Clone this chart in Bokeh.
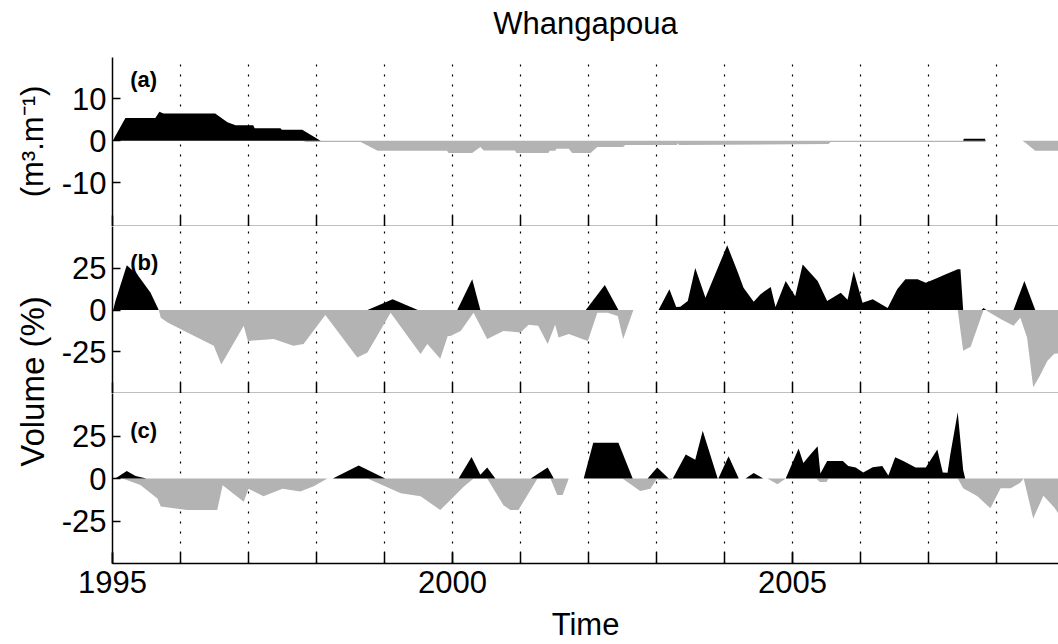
import math
from bokeh.plotting import figure
from bokeh.layouts import row, column
from bokeh.models import Range1d, FixedTicker, Label
from bokeh.core.properties import value
from bokeh.embed import file_html
from bokeh.resources import INLINE

nan = float("nan")

# ---------------- data ----------------
title_text = "Whangapoua"
years = list(range(1995, 2009))
label_years = [1995, 2000, 2005]
a_ticks = [-10, 0, 10]
bc_ticks = [-25, 0, 25]

# panel (a) shoreline change (m3.m-1)
a_acc_t = [1995.01, 1995.03, 1995.19, 1995.63, 1995.69, 1995.75, 1996.51, 1996.69, 1996.81, 1997.07,
           1997.09, 1997.47, 1997.49, 1997.79, 1998.06, nan, 2007.51, 2007.52, 2007.83, 2007.84]
a_acc_v = [0, 0.8, 5.4, 5.4, 6.9, 6.5, 6.5, 4.4, 3.7, 3.7,
           3.0, 3.0, 2.6, 2.6, 0, nan, 0, 0.45, 0.45, 0]
a_ero_t = [1997.79, 1997.85, 1998.65, 1998.90, 1999.92, 1999.94, 2000.29, 2000.41, 2000.46, 2000.92,
           2000.94, 2001.41, 2001.43, 2001.51, 2001.53, 2001.71, 2001.76, 2002.03, 2002.13, 2002.51,
           2002.54, 2003.30, 2003.31, 2003.33, 2005.53, 2005.56, 2007.84, nan, 2008.38, 2008.42,
           2008.57, 2008.91]
a_ero_v = [0, -0.3, -0.3, -2.4, -2.4, -2.9, -2.9, -1.5, -2.3, -2.3,
           -2.9, -2.9, -2.4, -2.4, -1.9, -1.9, -2.9, -2.9, -1.5, -1.5,
           -1.0, -1.0, -0.6, -1.0, -0.8, -0.3, -0.3, nan, 0, -0.4,
           -2.4, -2.4]

# panel (b) volume change (%)
b_acc_t = [1995.01, 1995.04, 1995.21, 1995.37, 1995.56, 1995.68, nan,
           1998.75, 1999.12, 1999.49, nan,
           2000.07, 2000.29, 2000.41, nan,
           2001.96, 2002.24, 2002.44, nan,
           2003.03, 2003.19, 2003.29, 2003.35, 2003.46, 2003.57, 2003.72, 2003.84, 2004.04, 2004.19,
           2004.28, 2004.43, 2004.53, 2004.68, 2004.75, 2004.90, 2005.04, 2005.15, 2005.37, 2005.51,
           2005.71, 2005.81, 2005.90, 2006.03, 2006.18, 2006.40, 2006.54, 2006.66, 2006.84, 2006.96,
           2007.13, 2007.22, 2007.43, 2007.47, 2007.51, nan,
           2007.78, 2007.81, 2007.85, nan,
           2008.25, 2008.41, 2008.57]
b_acc_v = [0, 5.0, 26.8, 21.0, 10.3, 0, nan,
           0, 6.5, 0, nan,
           0, 18.4, 0, nan,
           0, 14.9, 0, nan,
           0, 12.5, 1.8, 2.0, 5.4, 25.2, 7.3, 19.2, 38.7, 23.2,
           13.3, 4.9, 9.5, 13.7, 1.8, 17.3, 8.3, 27.2, 17.3, 5.4,
           10.3, 6.1, 23.2, 4.4, 6.5, 1.2, 12.5, 18.4, 18.4, 16.3,
           19.2, 20.8, 24.4, 24.4, 0, nan,
           0, 1.2, 0, nan,
           0, 17.3, 0]
b_ero_t = [1995.68, 1995.71, 1995.81, 1996.10, 1996.49, 1996.60, 1996.93, 1996.99, 1997.37, 1997.66,
           1997.81, 1998.13, 1998.60, 1998.75, 1999.09, 1999.53, 1999.63, 1999.82, 1999.93, 1999.97,
           2000.12, 2000.31, 2000.51, 2000.75, 2001.00, 2001.12, 2001.26, 2001.40, 2001.51, 2001.56,
           2001.71, 2001.99, 2002.13, 2002.28, 2002.43, 2002.51, 2002.66, nan,
           2007.43, 2007.51, 2007.62, 2007.81, 2007.84, 2007.88, 2008.06, 2008.25, 2008.35, 2008.45,
           2008.54, 2008.63, 2008.75, 2008.85, 2008.91]
b_ero_v = [0, -4.6, -7.5, -13.5, -21.4, -32.7, -9.5, -18.5, -17.3, -21.4,
           -20.4, -3.0, -28.4, -25.4, -1.6, -26.4, -20.4, -29.2, -15.5, -15.5,
           -12.5, -1.6, -17.3, -12.5, -13.5, -8.9, -9.5, -20.4, -8.9, -16.5,
           -14.3, -18.5, -1.6, -1.6, -3.6, -17.3, 0, nan,
           0, -24.4, -22.0, 0, 0, -1.0, -5.4, -9.5, -4.6, -16.5,
           -46.2, -40.0, -30.4, -26.2, -26.0]

# panel (c) volume change (%)
c_acc_t = [1995.04, 1995.21, 1995.34, 1995.50, nan,
           1998.24, 1998.62, 1999.01, nan,
           2000.09, 2000.28, 2000.41, 2000.51, 2000.63, nan,
           2001.15, 2001.40, 2001.49, nan,
           2001.93, 2002.07, 2002.44, 2002.65, nan,
           2002.87, 2003.01, 2003.18, nan,
           2003.24, 2003.43, 2003.57, 2003.68, 2003.90, nan,
           2003.91, 2004.06, 2004.21, nan,
           2004.31, 2004.43, 2004.57, nan,
           2004.90, 2005.09, 2005.16, 2005.26, 2005.37, 2005.41, 2005.51, 2005.74, 2005.82, 2005.93,
           2006.04, 2006.18, 2006.32, 2006.41, 2006.51, 2006.63, 2006.81, 2006.96, 2007.13, 2007.21,
           2007.28, 2007.32, 2007.43, 2007.51, 2007.54]
c_acc_v = [0, 4.4, 1.5, 0, nan,
           0, 7.7, 0, nan,
           0, 12.7, 2.2, 6.5, 0, nan,
           0, 6.5, 0, nan,
           0, 21.0, 21.0, 0, nan,
           0, 6.5, 0, nan,
           0, 14.1, 11.1, 28.1, 0, nan,
           0, 13.1, 0, nan,
           0, 3.2, 0, nan,
           0, 17.7, 9.1, 14.0, 19.0, 3.0, 10.3, 10.3, 7.3, 6.5,
           3.6, 6.6, 7.3, 1.8, 12.5, 10.3, 6.5, 6.5, 17.1, 3.6,
           3.4, 14.0, 38.9, 5.0, 0]
c_ero_t = [1995.15, 1995.41, 1995.66, 1995.71, 1996.10, 1996.54, 1996.62, 1996.93, 1997.00, 1997.22,
           1997.50, 1997.76, 1997.96, 1998.16, nan,
           1998.75, 1999.24, 1999.53, 1999.82, 1999.97, 2000.16, 2000.31, nan,
           2000.51, 2000.75, 2000.85, 2000.97, 2001.25, nan,
           2001.44, 2001.54, 2001.62, 2001.71, nan,
           2002.50, 2002.76, 2002.91, 2003.01, nan,
           2003.01, 2003.03, 2003.22, 2003.24, nan,
           2004.63, 2004.78, 2004.90, nan,
           2005.35, 2005.40, 2005.50, 2005.53, nan,
           2007.43, 2007.51, 2007.72, 2007.91, 2008.06, 2008.21, 2008.35, 2008.40, 2008.54, 2008.69,
           2008.85, 2008.91]
c_ero_v = [0, -3.8, -11.7, -16.5, -18.5, -18.5, -4.0, -13.7, -6.1, -10.5,
           -6.1, -7.6, -4.6, 0, nan,
           0, -8.7, -10.5, -18.5, -12.7, -5.0, 0, nan,
           0, -15.7, -18.5, -18.5, 0, nan,
           0, -9.7, -9.7, 0, nan,
           0, -7.3, -6.0, 0, nan,
           0, -0.8, -0.8, 0, nan,
           0, -3.4, 0, nan,
           0, -2.0, -2.0, 0, nan,
           0, -5.8, -10.5, -17.5, -5.8, -5.8, -2.5, 0, -23.5, -10.1,
           -17.0, -20.6]

panel_letters = ["(a)", "(b)", "(c)"]
ylabel_a = "(m³.m⁻¹)"
ylabel_bc = "Volume (%)"
xlabel = "Time"

# ---------------- styling ----------------
FONT = "Liberation Sans"
FS = "31px"
BLACK = "#000000"
GREY = "#b3b3b3"
X0, X1 = 1995.0, 2008.912
XMID = (X0 + X1) / 2
LEFT_W = 58
MAIN_W = 1000
BORDER_L = 54
H_TITLE, H1, H2, H3, H_X = 57, 169, 167, 216, 35
TOTAL_H = H_TITLE + H1 + H2 + H3 + H_X


def segments(t, v):
    segs, ct, cv = [], [], []
    for ti, vi in zip(t, v):
        if math.isnan(vi) or math.isnan(ti):
            if ct:
                segs.append((ct, cv))
            ct, cv = [], []
        else:
            ct.append(ti)
            cv.append(vi)
    if ct:
        segs.append((ct, cv))
    return segs


def text_figure(w, h, xr):
    """A blank strip for free-standing texts; y counts pixels down from its top edge."""
    f = figure(width=w, height=h, x_range=xr, y_range=Range1d(h, 0),
               toolbar_location=None, output_backend="svg",
               x_axis_location=None, y_axis_location=None,
               min_border=0, min_border_left=0, min_border_right=0,
               min_border_top=0, min_border_bottom=0)
    f.outline_line_color = None
    f.grid.visible = False
    f.background_fill_color = "white"
    f.border_fill_color = "white"
    return f


def make_panel(height, yr, ticks, acc_t, acc_v, ero_t, ero_v, letter, letter_y,
               bottom=0, last=False):
    assert len(acc_t) == len(acc_v) and len(ero_t) == len(ero_v)
    p = figure(width=MAIN_W, height=height, x_range=Range1d(X0, X1), y_range=Range1d(*yr),
               toolbar_location=None, output_backend="svg",
               min_border_left=BORDER_L, min_border_right=0,
               min_border_top=0, min_border_bottom=bottom)
    p.outline_line_color = None
    p.background_fill_color = "white"
    p.border_fill_color = "white"
    # year grid (dotted)
    p.ygrid.visible = False
    p.xgrid.ticker = FixedTicker(ticks=years[1:])
    p.xgrid.grid_line_color = BLACK
    p.xgrid.grid_line_dash = "2 8"
    p.xgrid.grid_line_width = 1.2
    # fills
    for st, sv in segments(ero_t, ero_v):
        p.varea(x=st, y1=[0] * len(st), y2=sv, fill_color=GREY)
    for st, sv in segments(acc_t, acc_v):
        p.varea(x=st, y1=[0] * len(st), y2=sv, fill_color=BLACK)
    # x axis: a tick every year (minor), labels only at 1995/2000/2005 on the last panel
    xa = p.xaxis[0]
    xa.ticker = FixedTicker(ticks=(label_years if last else []), minor_ticks=years)
    xa.major_tick_in = 11
    xa.major_tick_out = 0
    xa.minor_tick_in = 11
    xa.minor_tick_out = 0
    xa.minor_tick_line_color = BLACK
    xa.minor_tick_line_width = 1.5
    xa.major_tick_line_width = 1.5
    xa.axis_line_width = 1.5
    xa.axis_line_color = BLACK
    if last:
        xa.major_label_text_font = FONT
        xa.major_label_text_font_size = FS
        xa.major_label_text_color = BLACK
        xa.major_label_standoff = 7
    else:
        xa.major_label_standoff = 0
    # y axis
    ya = p.yaxis[0]
    ya.ticker = FixedTicker(ticks=ticks)
    ya.major_label_overrides = {t: str(t) for t in ticks}
    ya.major_tick_in = 8
    ya.major_tick_out = 0
    ya.minor_tick_line_color = None
    ya.axis_line_width = 1.5
    ya.axis_line_color = BLACK
    ya.major_tick_line_width = 1.5
    ya.major_label_text_font = FONT
    ya.major_label_text_font_size = FS
    ya.major_label_text_color = BLACK
    ya.major_label_standoff = 6
    p.add_layout(Label(x=1995.26, y=letter_y, text=letter, text_font=FONT,
                       text_font_style="bold", text_font_size="22px", text_color=BLACK,
                       text_baseline="middle", text_align="left"))
    return p


# title strip (its frame lines up with the panels' frames)
tfig = text_figure(MAIN_W, H_TITLE, Range1d(X0, X1))
tfig.text(x=[XMID], y=[23], text=[title_text], text_align="center", text_baseline="middle",
          text_font=value(FONT), text_font_size=FS, text_color=BLACK)

f1 = make_panel(H1, (-20.4, 19.8), a_ticks, a_acc_t, a_acc_v, a_ero_t, a_ero_v,
                panel_letters[0], 14.5)
f2 = make_panel(H2, (-50, 50), bc_ticks, b_acc_t, b_acc_v, b_ero_t, b_ero_v,
                panel_letters[1], 28.6)
f3 = make_panel(H3, (-50, 50), bc_ticks, c_acc_t, c_acc_v, c_ero_t, c_ero_v,
                panel_letters[2], 28.0, bottom=46, last=True)

# x-axis title strip
xfig = text_figure(MAIN_W, H_X, Range1d(X0, X1))
xfig.text(x=[XMID], y=[15], text=[xlabel], text_align="center", text_baseline="middle",
          text_font=value(FONT), text_font_size=FS, text_color=BLACK)

# y-axis titles strip
lab = text_figure(LEFT_W, TOTAL_H, Range1d(0, LEFT_W))
lab.text(x=[32], y=[141], text=[ylabel_a], angle=math.pi / 2, text_align="center",
         text_baseline="middle", text_font=value(FONT), text_font_size=FS, text_color=BLACK)
lab.text(x=[32], y=[381], text=[ylabel_bc], angle=math.pi / 2, text_align="center",
         text_baseline="middle", text_font=value(FONT), text_font_size="33px", text_color=BLACK)

layout = row(lab, column(tfig, f1, f2, f3, xfig))
open("out.html", "w").write(file_html(layout, INLINE, title="Whangapoua"))
